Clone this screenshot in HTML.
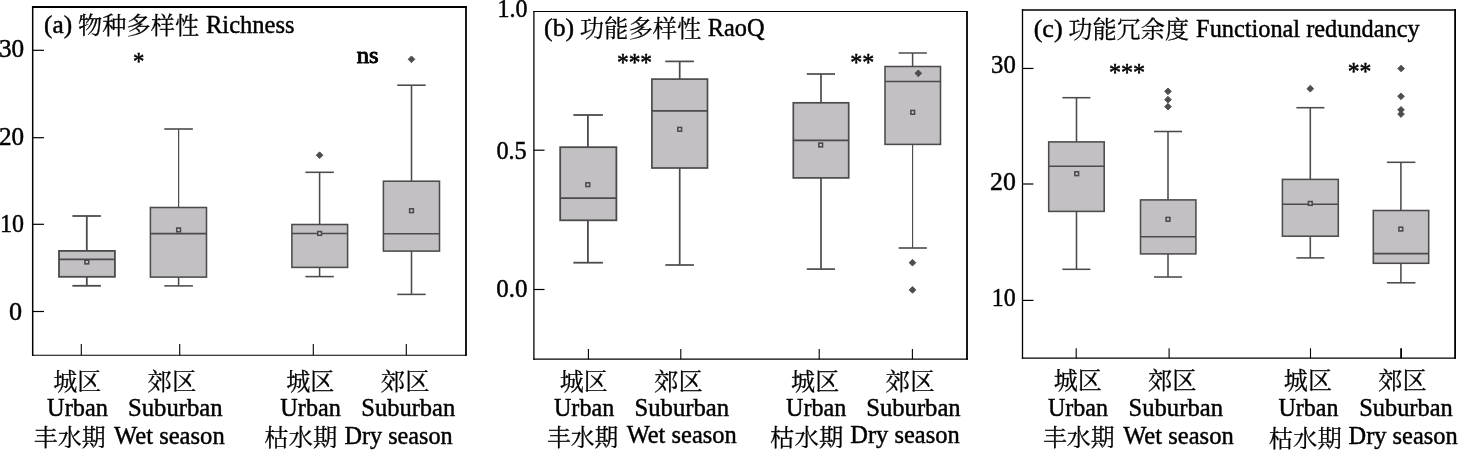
<!DOCTYPE html>
<html lang="zh"><head><meta charset="utf-8"><title>Boxplots</title>
<style>html,body{margin:0;padding:0;background:#fff}body{width:1458px;height:451px;overflow:hidden}svg{display:block;will-change:transform}</style>
</head><body>
<svg width="1458" height="451" viewBox="0 0 1458 451" font-family='"Liberation Serif", "Noto Serif CJK SC", serif' fill="#000">
<rect width="1458" height="451" fill="#fff"/>
<g stroke-linecap="butt">
<line x1="32.70" y1="5.95" x2="32.70" y2="355.85" stroke="#000" stroke-width="1.5"/>
<line x1="466.00" y1="5.95" x2="466.00" y2="355.85" stroke="#000" stroke-width="1.8"/>
<line x1="31.95" y1="6.95" x2="466.90" y2="6.95" stroke="#000" stroke-width="2.0"/>
<line x1="31.95" y1="355.30" x2="466.90" y2="355.30" stroke="#000" stroke-width="1.1"/>
<line x1="32.70" y1="50.30" x2="43.95" y2="50.30" stroke="#000" stroke-width="1.2"/>
<line x1="32.70" y1="137.70" x2="43.95" y2="137.70" stroke="#000" stroke-width="1.2"/>
<line x1="32.70" y1="224.30" x2="43.95" y2="224.30" stroke="#000" stroke-width="1.2"/>
<line x1="32.70" y1="311.50" x2="43.95" y2="311.50" stroke="#000" stroke-width="1.2"/>
<line x1="81.30" y1="355.30" x2="81.30" y2="343.90" stroke="#000" stroke-width="1.1"/>
<line x1="179.70" y1="355.30" x2="179.70" y2="343.90" stroke="#000" stroke-width="1.1"/>
<line x1="313.30" y1="355.30" x2="313.30" y2="343.90" stroke="#000" stroke-width="1.1"/>
<line x1="406.30" y1="355.30" x2="406.30" y2="343.90" stroke="#000" stroke-width="1.1"/>
<line x1="86.80" y1="216.00" x2="86.80" y2="250.90" stroke="#4c4a4c" stroke-width="1.8"/>
<line x1="86.80" y1="276.80" x2="86.80" y2="285.80" stroke="#4c4a4c" stroke-width="1.8"/>
<line x1="72.40" y1="216.00" x2="100.90" y2="216.00" stroke="#4c4a4c" stroke-width="1.8"/>
<line x1="72.40" y1="285.80" x2="100.90" y2="285.80" stroke="#4c4a4c" stroke-width="1.8"/>
<rect x="59.00" y="250.90" width="55.90" height="25.90" fill="#c2c0c3" stroke="#4c4a4c" stroke-width="1.8"/>
<line x1="59.00" y1="259.40" x2="114.90" y2="259.40" stroke="#4c4a4c" stroke-width="1.8"/>
<rect x="84.95" y="260.15" width="3.7" height="3.7" fill="#d2d0d2" stroke="#4c4a4c" stroke-width="1.6"/>
<line x1="178.60" y1="129.00" x2="178.60" y2="207.50" stroke="#4c4a4c" stroke-width="1.25"/>
<line x1="178.60" y1="277.10" x2="178.60" y2="285.90" stroke="#4c4a4c" stroke-width="1.55"/>
<line x1="164.30" y1="129.00" x2="192.90" y2="129.00" stroke="#4c4a4c" stroke-width="1.6"/>
<line x1="164.30" y1="285.90" x2="192.90" y2="285.90" stroke="#4c4a4c" stroke-width="1.55"/>
<rect x="150.40" y="207.50" width="56.10" height="69.60" fill="#c2c0c3" stroke="#4c4a4c" stroke-width="1.55"/>
<line x1="150.40" y1="233.60" x2="206.50" y2="233.60" stroke="#4c4a4c" stroke-width="1.55"/>
<rect x="176.75" y="228.05" width="3.7" height="3.7" fill="#d2d0d2" stroke="#4c4a4c" stroke-width="1.6"/>
<line x1="319.60" y1="172.30" x2="319.60" y2="224.50" stroke="#4c4a4c" stroke-width="1.55"/>
<line x1="319.60" y1="267.40" x2="319.60" y2="276.60" stroke="#4c4a4c" stroke-width="1.55"/>
<line x1="305.40" y1="172.30" x2="333.80" y2="172.30" stroke="#4c4a4c" stroke-width="1.55"/>
<line x1="305.40" y1="276.60" x2="333.80" y2="276.60" stroke="#4c4a4c" stroke-width="1.55"/>
<rect x="291.90" y="224.50" width="55.70" height="42.90" fill="#c2c0c3" stroke="#4c4a4c" stroke-width="1.55"/>
<line x1="291.90" y1="233.40" x2="347.60" y2="233.40" stroke="#4c4a4c" stroke-width="1.55"/>
<rect x="317.75" y="231.55" width="3.7" height="3.7" fill="#d2d0d2" stroke="#4c4a4c" stroke-width="1.6"/>
<path d="M316.25 155.20L319.60 151.85L322.95 155.20L319.60 158.55Z" fill="#4e4d4e" stroke="#4e4d4e" stroke-width="0.9" stroke-linejoin="round"/>
<line x1="411.50" y1="85.20" x2="411.50" y2="181.20" stroke="#4c4a4c" stroke-width="1.55"/>
<line x1="411.50" y1="251.10" x2="411.50" y2="294.40" stroke="#4c4a4c" stroke-width="1.55"/>
<line x1="397.20" y1="85.20" x2="425.70" y2="85.20" stroke="#4c4a4c" stroke-width="1.55"/>
<line x1="397.20" y1="294.40" x2="425.70" y2="294.40" stroke="#4c4a4c" stroke-width="1.55"/>
<rect x="383.40" y="181.20" width="56.10" height="69.90" fill="#c2c0c3" stroke="#4c4a4c" stroke-width="1.55"/>
<line x1="383.40" y1="233.70" x2="439.50" y2="233.70" stroke="#4c4a4c" stroke-width="1.55"/>
<rect x="409.65" y="208.85" width="3.7" height="3.7" fill="#d2d0d2" stroke="#4c4a4c" stroke-width="1.6"/>
<path d="M408.15 59.30L411.50 55.95L414.85 59.30L411.50 62.65Z" fill="#4e4d4e" stroke="#4e4d4e" stroke-width="0.9" stroke-linejoin="round"/>
<line x1="533.90" y1="10.90" x2="533.90" y2="359.80" stroke="#000" stroke-width="1.3"/>
<line x1="967.00" y1="10.90" x2="967.00" y2="359.80" stroke="#000" stroke-width="1.8"/>
<line x1="533.25" y1="11.50" x2="967.90" y2="11.50" stroke="#000" stroke-width="1.2"/>
<line x1="533.25" y1="359.20" x2="967.90" y2="359.20" stroke="#000" stroke-width="1.2"/>
<line x1="533.90" y1="150.20" x2="544.55" y2="150.20" stroke="#000" stroke-width="1.2"/>
<line x1="533.90" y1="289.50" x2="544.55" y2="289.50" stroke="#000" stroke-width="1.2"/>
<line x1="588.40" y1="359.20" x2="588.40" y2="349.10" stroke="#000" stroke-width="1.1"/>
<line x1="680.80" y1="359.20" x2="680.80" y2="349.10" stroke="#000" stroke-width="1.1"/>
<line x1="819.20" y1="359.20" x2="819.20" y2="349.10" stroke="#000" stroke-width="1.1"/>
<line x1="912.40" y1="359.20" x2="912.40" y2="349.10" stroke="#000" stroke-width="1.1"/>
<line x1="587.90" y1="115.00" x2="587.90" y2="147.20" stroke="#4c4a4c" stroke-width="1.8"/>
<line x1="587.90" y1="220.30" x2="587.90" y2="262.70" stroke="#4c4a4c" stroke-width="1.8"/>
<line x1="573.40" y1="115.00" x2="602.90" y2="115.00" stroke="#4c4a4c" stroke-width="1.8"/>
<line x1="573.40" y1="262.70" x2="602.90" y2="262.70" stroke="#4c4a4c" stroke-width="1.8"/>
<rect x="560.20" y="147.20" width="56.20" height="73.10" fill="#c2c0c3" stroke="#4c4a4c" stroke-width="1.8"/>
<line x1="560.20" y1="198.20" x2="616.40" y2="198.20" stroke="#4c4a4c" stroke-width="1.8"/>
<rect x="585.95" y="182.85" width="3.7" height="3.7" fill="#d2d0d2" stroke="#4c4a4c" stroke-width="1.6"/>
<line x1="679.70" y1="61.40" x2="679.70" y2="79.10" stroke="#4c4a4c" stroke-width="1.7"/>
<line x1="679.70" y1="168.00" x2="679.70" y2="265.00" stroke="#4c4a4c" stroke-width="1.7"/>
<line x1="665.30" y1="61.40" x2="693.90" y2="61.40" stroke="#4c4a4c" stroke-width="1.7"/>
<line x1="665.30" y1="265.00" x2="693.90" y2="265.00" stroke="#4c4a4c" stroke-width="1.7"/>
<rect x="651.90" y="79.10" width="55.60" height="88.90" fill="#c2c0c3" stroke="#4c4a4c" stroke-width="1.7"/>
<line x1="651.90" y1="110.80" x2="707.50" y2="110.80" stroke="#4c4a4c" stroke-width="1.7"/>
<rect x="677.85" y="127.45" width="3.7" height="3.7" fill="#d2d0d2" stroke="#4c4a4c" stroke-width="1.6"/>
<line x1="821.00" y1="74.00" x2="821.00" y2="102.80" stroke="#4c4a4c" stroke-width="1.7"/>
<line x1="821.00" y1="177.90" x2="821.00" y2="269.10" stroke="#4c4a4c" stroke-width="1.7"/>
<line x1="806.80" y1="74.00" x2="835.00" y2="74.00" stroke="#4c4a4c" stroke-width="1.7"/>
<line x1="806.80" y1="269.10" x2="835.00" y2="269.10" stroke="#4c4a4c" stroke-width="1.7"/>
<rect x="793.30" y="102.80" width="55.40" height="75.10" fill="#c2c0c3" stroke="#4c4a4c" stroke-width="1.7"/>
<line x1="793.30" y1="140.40" x2="848.70" y2="140.40" stroke="#4c4a4c" stroke-width="1.7"/>
<rect x="818.85" y="143.15" width="3.7" height="3.7" fill="#d2d0d2" stroke="#4c4a4c" stroke-width="1.6"/>
<line x1="912.60" y1="53.00" x2="912.60" y2="66.50" stroke="#4c4a4c" stroke-width="1.5"/>
<line x1="912.60" y1="144.40" x2="912.60" y2="248.00" stroke="#4c4a4c" stroke-width="1.15"/>
<line x1="898.60" y1="53.00" x2="926.90" y2="53.00" stroke="#4c4a4c" stroke-width="1.5"/>
<line x1="898.60" y1="248.00" x2="926.90" y2="248.00" stroke="#4c4a4c" stroke-width="1.6"/>
<rect x="885.00" y="66.50" width="55.50" height="77.90" fill="#c2c0c3" stroke="#4c4a4c" stroke-width="1.55"/>
<line x1="885.00" y1="81.40" x2="940.50" y2="81.40" stroke="#4c4a4c" stroke-width="1.55"/>
<rect x="910.85" y="110.45" width="3.7" height="3.7" fill="#d2d0d2" stroke="#4c4a4c" stroke-width="1.6"/>
<path d="M914.95 73.30L918.30 69.95L921.65 73.30L918.30 76.65Z" fill="#4e4d4e" stroke="#4e4d4e" stroke-width="0.9" stroke-linejoin="round"/>
<path d="M909.15 262.70L912.50 259.35L915.85 262.70L912.50 266.05Z" fill="#4e4d4e" stroke="#4e4d4e" stroke-width="0.9" stroke-linejoin="round"/>
<path d="M909.15 289.90L912.50 286.55L915.85 289.90L912.50 293.25Z" fill="#4e4d4e" stroke="#4e4d4e" stroke-width="0.9" stroke-linejoin="round"/>
<line x1="1022.50" y1="9.35" x2="1022.50" y2="358.80" stroke="#000" stroke-width="1.3"/>
<line x1="1455.10" y1="9.35" x2="1455.10" y2="358.80" stroke="#000" stroke-width="1.8"/>
<line x1="1021.85" y1="10.00" x2="1456.00" y2="10.00" stroke="#000" stroke-width="1.3"/>
<line x1="1021.85" y1="358.20" x2="1456.00" y2="358.20" stroke="#000" stroke-width="1.2"/>
<line x1="1022.50" y1="68.45" x2="1033.45" y2="68.45" stroke="#000" stroke-width="1.2"/>
<line x1="1022.50" y1="184.00" x2="1033.45" y2="184.00" stroke="#000" stroke-width="1.2"/>
<line x1="1022.50" y1="300.40" x2="1033.45" y2="300.40" stroke="#000" stroke-width="1.2"/>
<line x1="1076.20" y1="358.20" x2="1076.20" y2="348.20" stroke="#000" stroke-width="1.1"/>
<line x1="1169.10" y1="358.20" x2="1169.10" y2="348.20" stroke="#000" stroke-width="1.1"/>
<line x1="1310.50" y1="358.20" x2="1310.50" y2="348.20" stroke="#000" stroke-width="1.1"/>
<line x1="1401.10" y1="358.20" x2="1401.10" y2="348.20" stroke="#000" stroke-width="1.8"/>
<line x1="1076.50" y1="97.70" x2="1076.50" y2="141.90" stroke="#4c4a4c" stroke-width="1.55"/>
<line x1="1076.50" y1="211.40" x2="1076.50" y2="269.30" stroke="#4c4a4c" stroke-width="1.55"/>
<line x1="1062.40" y1="97.70" x2="1090.40" y2="97.70" stroke="#4c4a4c" stroke-width="1.55"/>
<line x1="1062.40" y1="269.30" x2="1090.40" y2="269.30" stroke="#4c4a4c" stroke-width="1.55"/>
<rect x="1048.70" y="141.90" width="55.50" height="69.50" fill="#c2c0c3" stroke="#4c4a4c" stroke-width="1.55"/>
<line x1="1048.70" y1="166.20" x2="1104.20" y2="166.20" stroke="#4c4a4c" stroke-width="1.55"/>
<rect x="1074.85" y="171.85" width="3.7" height="3.7" fill="#d2d0d2" stroke="#4c4a4c" stroke-width="1.6"/>
<line x1="1168.00" y1="131.50" x2="1168.00" y2="199.90" stroke="#4c4a4c" stroke-width="1.55"/>
<line x1="1168.00" y1="253.90" x2="1168.00" y2="277.00" stroke="#4c4a4c" stroke-width="1.55"/>
<line x1="1154.00" y1="131.50" x2="1182.10" y2="131.50" stroke="#4c4a4c" stroke-width="1.55"/>
<line x1="1154.00" y1="277.00" x2="1182.10" y2="277.00" stroke="#4c4a4c" stroke-width="1.55"/>
<rect x="1140.50" y="199.90" width="55.40" height="54.00" fill="#c2c0c3" stroke="#4c4a4c" stroke-width="1.55"/>
<line x1="1140.50" y1="236.70" x2="1195.90" y2="236.70" stroke="#4c4a4c" stroke-width="1.55"/>
<rect x="1166.15" y="217.45" width="3.7" height="3.7" fill="#d2d0d2" stroke="#4c4a4c" stroke-width="1.6"/>
<path d="M1164.65 91.30L1168.00 87.95L1171.35 91.30L1168.00 94.65Z" fill="#4e4d4e" stroke="#4e4d4e" stroke-width="0.9" stroke-linejoin="round"/>
<path d="M1164.65 99.70L1168.00 96.35L1171.35 99.70L1168.00 103.05Z" fill="#4e4d4e" stroke="#4e4d4e" stroke-width="0.9" stroke-linejoin="round"/>
<path d="M1164.65 106.70L1168.00 103.35L1171.35 106.70L1168.00 110.05Z" fill="#4e4d4e" stroke="#4e4d4e" stroke-width="0.9" stroke-linejoin="round"/>
<line x1="1310.30" y1="107.70" x2="1310.30" y2="179.40" stroke="#4c4a4c" stroke-width="1.55"/>
<line x1="1310.30" y1="236.20" x2="1310.30" y2="257.90" stroke="#4c4a4c" stroke-width="1.55"/>
<line x1="1296.40" y1="107.70" x2="1324.40" y2="107.70" stroke="#4c4a4c" stroke-width="1.55"/>
<line x1="1296.40" y1="257.90" x2="1324.40" y2="257.90" stroke="#4c4a4c" stroke-width="1.55"/>
<rect x="1282.40" y="179.40" width="55.90" height="56.80" fill="#c2c0c3" stroke="#4c4a4c" stroke-width="1.55"/>
<line x1="1282.40" y1="204.30" x2="1338.30" y2="204.30" stroke="#4c4a4c" stroke-width="1.55"/>
<rect x="1308.45" y="201.55" width="3.7" height="3.7" fill="#d2d0d2" stroke="#4c4a4c" stroke-width="1.6"/>
<path d="M1306.95 88.70L1310.30 85.35L1313.65 88.70L1310.30 92.05Z" fill="#4e4d4e" stroke="#4e4d4e" stroke-width="0.9" stroke-linejoin="round"/>
<line x1="1400.90" y1="162.30" x2="1400.90" y2="210.50" stroke="#4c4a4c" stroke-width="1.55"/>
<line x1="1400.90" y1="263.30" x2="1400.90" y2="282.80" stroke="#4c4a4c" stroke-width="1.55"/>
<line x1="1386.90" y1="162.30" x2="1415.40" y2="162.30" stroke="#4c4a4c" stroke-width="1.55"/>
<line x1="1386.90" y1="282.80" x2="1415.40" y2="282.80" stroke="#4c4a4c" stroke-width="1.55"/>
<rect x="1373.30" y="210.50" width="55.40" height="52.80" fill="#c2c0c3" stroke="#4c4a4c" stroke-width="1.55"/>
<line x1="1373.30" y1="253.60" x2="1428.70" y2="253.60" stroke="#4c4a4c" stroke-width="1.55"/>
<rect x="1398.95" y="227.25" width="3.7" height="3.7" fill="#d2d0d2" stroke="#4c4a4c" stroke-width="1.6"/>
<path d="M1397.75 68.50L1401.10 65.15L1404.45 68.50L1401.10 71.85Z" fill="#4e4d4e" stroke="#4e4d4e" stroke-width="0.9" stroke-linejoin="round"/>
<path d="M1397.65 96.30L1401.00 92.95L1404.35 96.30L1401.00 99.65Z" fill="#4e4d4e" stroke="#4e4d4e" stroke-width="0.9" stroke-linejoin="round"/>
<path d="M1397.65 109.80L1401.00 106.45L1404.35 109.80L1401.00 113.15Z" fill="#4e4d4e" stroke="#4e4d4e" stroke-width="0.9" stroke-linejoin="round"/>
<path d="M1397.65 114.10L1401.00 110.75L1404.35 114.10L1401.00 117.45Z" fill="#4e4d4e" stroke="#4e4d4e" stroke-width="0.9" stroke-linejoin="round"/>
</g>
<g stroke="#000" stroke-width="0.45">
<text transform="translate(44.01 32.50) scale(1.0282 1)" font-size="24.6">(a)</text>
<text transform="translate(78.00 33.60) scale(1.0276 1)" font-size="23.6" stroke-width="0.25">物种多样性</text>
<text transform="translate(206.01 32.50) scale(0.9965 1)" font-size="24.6">Richness</text>
<text transform="translate(133.01 69.60) scale(0.9248 1)" font-size="24.6" stroke-width="0.5">*</text>
<text transform="translate(356.76 62.70) scale(1.0916 1)" font-size="22.6" stroke-width="0.9">ns</text>
<text transform="translate(-1.09 57.40) scale(1.0263 1)" font-size="24.6">30</text>
<text transform="translate(-1.08 144.50) scale(1.0218 1)" font-size="24.6">20</text>
<text transform="translate(0.11 231.80) scale(0.9756 1)" font-size="24.6">10</text>
<text transform="translate(9.10 319.60) scale(1.0647 1)" font-size="24.6">0</text>
<text transform="translate(53.31 389.60) scale(1.0174 1)" font-size="23.6" stroke-width="0.25">城区</text>
<text transform="translate(147.62 389.60) scale(1.0368 1)" font-size="23.6" stroke-width="0.25">郊区</text>
<text transform="translate(286.21 389.60) scale(1.0218 1)" font-size="23.6" stroke-width="0.25">城区</text>
<text transform="translate(380.72 389.60) scale(1.0368 1)" font-size="23.6" stroke-width="0.25">郊区</text>
<text transform="translate(47.06 416.20) scale(0.9895 1)" font-size="24.6">Urban</text>
<text transform="translate(128.05 416.20) scale(1.0035 1)" font-size="24.6">Suburban</text>
<text transform="translate(280.37 416.20) scale(0.9845 1)" font-size="24.6">Urban</text>
<text transform="translate(361.26 416.20) scale(0.9970 1)" font-size="24.6">Suburban</text>
<text transform="translate(33.79 446.20) scale(1.0143 1)" font-size="23.6" stroke-width="0.25">丰水期</text>
<text transform="translate(114.05 443.60) scale(0.9997 1)" font-size="24.6">Wet season</text>
<text transform="translate(264.20 446.20) scale(1.0329 1)" font-size="23.6" stroke-width="0.25">枯水期</text>
<text transform="translate(344.42 443.60) scale(0.9848 1)" font-size="24.6">Dry season</text>
<text transform="translate(544.09 35.90) scale(1.0464 1)" font-size="24.6">(b)</text>
<text transform="translate(579.78 37.00) scale(1.0312 1)" font-size="23.6" stroke-width="0.25">功能多样性</text>
<text transform="translate(707.82 35.90) scale(0.9891 1)" font-size="24.6">RaoQ</text>
<text transform="translate(616.88 70.50) scale(0.9553 1)" font-size="24.6" stroke-width="0.5">***</text>
<text transform="translate(850.15 70.80) scale(0.9756 1)" font-size="24.6" stroke-width="0.5">**</text>
<text transform="translate(497.51 16.60) scale(0.9756 1)" font-size="24.6">1.0</text>
<text transform="translate(496.38 159.40) scale(0.9867 1)" font-size="24.6">0.5</text>
<text transform="translate(496.35 296.70) scale(1.0145 1)" font-size="24.6">0.0</text>
<text transform="translate(559.71 389.60) scale(1.0174 1)" font-size="23.6" stroke-width="0.25">城区</text>
<text transform="translate(654.22 389.60) scale(1.0280 1)" font-size="23.6" stroke-width="0.25">郊区</text>
<text transform="translate(791.11 389.60) scale(1.0218 1)" font-size="23.6" stroke-width="0.25">城区</text>
<text transform="translate(885.61 389.60) scale(1.0412 1)" font-size="23.6" stroke-width="0.25">郊区</text>
<text transform="translate(553.97 416.20) scale(0.9796 1)" font-size="24.6">Urban</text>
<text transform="translate(634.55 416.20) scale(1.0035 1)" font-size="24.6">Suburban</text>
<text transform="translate(786.07 416.20) scale(0.9796 1)" font-size="24.6">Urban</text>
<text transform="translate(866.25 416.20) scale(1.0014 1)" font-size="24.6">Suburban</text>
<text transform="translate(546.90 446.00) scale(1.0085 1)" font-size="23.6" stroke-width="0.25">丰水期</text>
<text transform="translate(626.65 443.40) scale(0.9943 1)" font-size="24.6">Wet season</text>
<text transform="translate(770.10 446.00) scale(1.0343 1)" font-size="23.6" stroke-width="0.25">枯水期</text>
<text transform="translate(850.32 443.40) scale(0.9949 1)" font-size="24.6">Dry season</text>
<text transform="translate(1033.68 36.90) scale(1.0601 1)" font-size="24.6">(c)</text>
<text transform="translate(1068.18 38.00) scale(1.0264 1)" font-size="23.6" stroke-width="0.25">功能冗余度</text>
<text transform="translate(1196.12 36.90) scale(0.9888 1)" font-size="24.6">Functional redundancy</text>
<text transform="translate(1108.94 81.10) scale(0.9814 1)" font-size="24.6" stroke-width="0.5">***</text>
<text transform="translate(1347.77 80.40) scale(0.9621 1)" font-size="24.6" stroke-width="0.5">**</text>
<text transform="translate(991.04 73.30) scale(1.0040 1)" font-size="24.6">30</text>
<text transform="translate(989.99 190.30) scale(1.0485 1)" font-size="24.6">20</text>
<text transform="translate(991.82 306.30) scale(0.9710 1)" font-size="24.6">10</text>
<text transform="translate(1053.71 389.40) scale(1.0218 1)" font-size="23.6" stroke-width="0.25">城区</text>
<text transform="translate(1148.02 389.40) scale(1.0324 1)" font-size="23.6" stroke-width="0.25">郊区</text>
<text transform="translate(1283.81 389.40) scale(1.0218 1)" font-size="23.6" stroke-width="0.25">城区</text>
<text transform="translate(1378.32 389.40) scale(1.0280 1)" font-size="23.6" stroke-width="0.25">郊区</text>
<text transform="translate(1047.97 416.20) scale(0.9763 1)" font-size="24.6">Urban</text>
<text transform="translate(1128.55 416.20) scale(1.0014 1)" font-size="24.6">Suburban</text>
<text transform="translate(1278.57 416.20) scale(0.9730 1)" font-size="24.6">Urban</text>
<text transform="translate(1359.16 416.20) scale(0.9927 1)" font-size="24.6">Suburban</text>
<text transform="translate(1042.89 446.20) scale(1.0143 1)" font-size="23.6" stroke-width="0.25">丰水期</text>
<text transform="translate(1123.15 443.60) scale(0.9988 1)" font-size="24.6">Wet season</text>
<text transform="translate(1268.70 447.20) scale(1.0329 1)" font-size="23.6" stroke-width="0.25">枯水期</text>
<text transform="translate(1348.52 444.40) scale(0.9921 1)" font-size="24.6">Dry season</text>
</g>
</svg>
</body></html>
